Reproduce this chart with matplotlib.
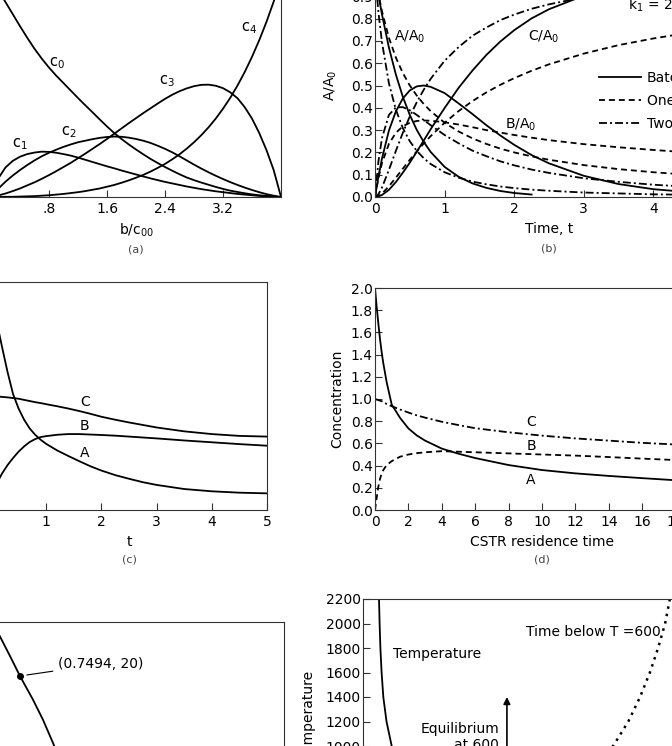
import matplotlib
matplotlib.use("Agg")
import matplotlib.pyplot as plt
from matplotlib.ticker import FormatStrFormatter

plt.rcParams['font.family'] = ['DejaVu Sans']
plt.rcParams['font.size'] = 10
plt.rcParams['mathtext.fontset'] = 'dejavusans'

# ---- (a) species c0..c4 vs b/c00
x_a = [0, 0.1, 0.2, 0.3, 0.4, 0.5, 0.6, 0.7, 0.8, 0.9, 1.0, 1.1, 1.2, 1.3, 1.4, 1.5, 1.6, 1.7, 1.8, 1.9, 2.0,
       2.1, 2.2, 2.3, 2.4, 2.5, 2.6, 2.7, 2.8, 2.9, 3.0, 3.1, 3.2, 3.3, 3.4, 3.5, 3.6, 3.7, 3.8, 3.9, 4.0]
c0 = [1.0, 0.945, 0.89, 0.835, 0.78, 0.727, 0.677, 0.632, 0.591, 0.554, 0.52, 0.486, 0.452, 0.419, 0.387,
      0.354, 0.322, 0.292, 0.265, 0.240, 0.217, 0.195, 0.174, 0.155, 0.137, 0.120, 0.104, 0.089, 0.077,
      0.066, 0.056, 0.046, 0.037, 0.029, 0.023, 0.017, 0.012, 0.008, 0.005, 0.002, 0]
c1 = [0, 0.085, 0.135, 0.165, 0.184, 0.196, 0.203, 0.207, 0.206, 0.202, 0.196, 0.189, 0.180, 0.170, 0.160,
      0.150, 0.140, 0.131, 0.121, 0.112, 0.103, 0.094, 0.085, 0.077, 0.069, 0.062, 0.055, 0.048, 0.042,
      0.036, 0.031, 0.026, 0.022, 0.018, 0.014, 0.011, 0.008, 0.005, 0.003, 0.001, 0]
c2 = [0, 0.038, 0.07, 0.098, 0.123, 0.146, 0.167, 0.186, 0.202, 0.216, 0.229, 0.240, 0.250, 0.257, 0.264,
      0.270, 0.274, 0.276, 0.275, 0.271, 0.265, 0.257, 0.247, 0.234, 0.220, 0.204, 0.186, 0.167, 0.148,
      0.130, 0.113, 0.097, 0.082, 0.068, 0.055, 0.043, 0.032, 0.022, 0.013, 0.006, 0]
c3 = [0, 0.007, 0.016, 0.027, 0.039, 0.053, 0.067, 0.083, 0.100, 0.118, 0.137, 0.156, 0.177, 0.198, 0.220,
      0.242, 0.265, 0.289, 0.313, 0.337, 0.360, 0.383, 0.405, 0.427, 0.448, 0.467, 0.483, 0.496, 0.506,
      0.512, 0.513, 0.508, 0.497, 0.478, 0.451, 0.410, 0.358, 0.292, 0.214, 0.122, 0]
c4 = [0, 0, 0.001, 0.001, 0.002, 0.003, 0.004, 0.006, 0.008, 0.011, 0.014, 0.018, 0.022, 0.027, 0.033,
      0.039, 0.047, 0.055, 0.065, 0.076, 0.088, 0.101, 0.116, 0.133, 0.151, 0.172, 0.195, 0.221, 0.250,
      0.282, 0.318, 0.358, 0.403, 0.453, 0.509, 0.571, 0.640, 0.716, 0.800, 0.893, 1.0]
a_ticks = [0.8, 1.6, 2.4, 3.2]
a_ticklabels = [".8", "1.6", "2.4", "3.2"]

# ---- (b) batch vs one / two CSTRs, k1 = 2, k2 = 1
t_b = [0, 0.05, 0.1, 0.2, 0.3, 0.4, 0.5, 0.6, 0.7, 0.8, 1.0, 1.2, 1.4, 1.6, 1.8, 2.0, 2.25, 2.5, 3.0, 3.5, 4.0, 4.5, 5.0]
batch_a = [1.0, 0.905, 0.819, 0.670, 0.549, 0.449, 0.368, 0.301, 0.247, 0.202, 0.135, 0.091, 0.061, 0.041, 0.027, 0.018, 0.011]
batch_b = [0, 0.092, 0.172, 0.298, 0.384, 0.442, 0.478, 0.496, 0.500, 0.494, 0.466, 0.420, 0.372, 0.322, 0.276, 0.234, 0.188, 0.151, 0.095, 0.058, 0.035, 0.022, 0.013]
batch_c = [0, 0.003, 0.009, 0.032, 0.067, 0.109, 0.154, 0.203, 0.253, 0.304, 0.399, 0.489, 0.567, 0.637, 0.697, 0.748, 0.801, 0.842, 0.903, 0.941, 0.965, 0.978, 0.987]
one_a = [1.0, 0.909, 0.833, 0.714, 0.625, 0.556, 0.500, 0.455, 0.417, 0.385, 0.333, 0.294, 0.263, 0.238, 0.217, 0.200, 0.182, 0.167, 0.143, 0.125, 0.111, 0.100, 0.091]
one_b = [0, 0.087, 0.152, 0.238, 0.288, 0.317, 0.333, 0.341, 0.343, 0.342, 0.335, 0.325, 0.313, 0.300, 0.289, 0.278, 0.266, 0.255, 0.237, 0.223, 0.211, 0.200, 0.191]
one_c = [0, 0.004, 0.015, 0.048, 0.087, 0.127, 0.167, 0.204, 0.240, 0.273, 0.333, 0.385, 0.430, 0.469, 0.503, 0.533, 0.566, 0.595, 0.643, 0.681, 0.711, 0.736, 0.757]
two_a = [1.0, 0.826, 0.694, 0.510, 0.391, 0.309, 0.250, 0.207, 0.174, 0.148, 0.111, 0.087, 0.069, 0.057, 0.047, 0.040, 0.033, 0.028, 0.020, 0.016, 0.012, 0.010, 0.008]
two_b = [0, 0.161, 0.264, 0.368, 0.402, 0.403, 0.389, 0.368, 0.345, 0.322, 0.278, 0.241, 0.208, 0.183, 0.160, 0.142, 0.123, 0.108, 0.084, 0.068, 0.055, 0.046, 0.039]
two_c = [0, 0.013, 0.042, 0.122, 0.207, 0.288, 0.361, 0.425, 0.481, 0.530, 0.611, 0.672, 0.723, 0.760, 0.793, 0.818, 0.844, 0.864, 0.896, 0.916, 0.933, 0.944, 0.953]
legend_labels = ["Batch", "One CSTR", "Two CSTRs"]

# ---- (c) A, B, C vs t
t_c = [0, 0.1, 0.2, 0.3, 0.4, 0.5, 0.6, 0.7, 0.8, 0.9, 1.0, 1.2, 1.4, 1.6, 1.8, 2.0, 2.25, 2.5, 2.75, 3.0, 3.5, 4.0, 4.5, 5.0]
a_c = [0.98, 0.83, 0.715, 0.605, 0.508, 0.445, 0.396, 0.358, 0.330, 0.308, 0.290, 0.261, 0.237, 0.214, 0.192,
       0.173, 0.153, 0.137, 0.122, 0.110, 0.092, 0.082, 0.076, 0.073]
b_c = [0.07, 0.115, 0.16, 0.197, 0.228, 0.256, 0.279, 0.298, 0.311, 0.320, 0.324, 0.330, 0.333, 0.333, 0.331,
       0.329, 0.326, 0.322, 0.318, 0.314, 0.305, 0.297, 0.289, 0.282]
cc_c = [0.50, 0.499, 0.496, 0.494, 0.491, 0.488, 0.483, 0.478, 0.473, 0.469, 0.464, 0.455, 0.445, 0.434, 0.422,
        0.409, 0.396, 0.384, 0.373, 0.362, 0.345, 0.333, 0.325, 0.322]

# ---- (d) CSTR concentrations vs residence time
tau_d = [0, 0.1, 0.2, 0.3, 0.4, 0.5, 0.7, 1, 1.5, 2, 2.5, 3, 4, 5, 6, 8, 10, 12, 14, 16, 18, 20]
a_d = [2.0, 1.83, 1.68, 1.54, 1.42, 1.32, 1.15, 0.95, 0.83, 0.735, 0.672, 0.625, 0.553, 0.507, 0.468, 0.405,
       0.36, 0.33, 0.307, 0.287, 0.268, 0.252]
b_d = [0, 0.11, 0.21, 0.28, 0.33, 0.36, 0.405, 0.44, 0.48, 0.50, 0.512, 0.52, 0.53, 0.525, 0.52, 0.51, 0.50,
       0.49, 0.477, 0.463, 0.45, 0.437]
c_d = [1.0, 0.995, 0.99, 0.985, 0.98, 0.972, 0.955, 0.935, 0.905, 0.878, 0.853, 0.832, 0.795, 0.765, 0.737,
       0.70, 0.67, 0.645, 0.625, 0.605, 0.59, 0.575]

# ---- (e) curve through (0.7494, 20)
x_e = [0.700, 0.7154, 0.7324, 0.7494, 0.7717, 0.7887, 0.8058, 0.8177]
y_e = [30.2, 27.3, 23.7, 20.0, 15.6, 11.9, 7.6, 4.4]
point_e = (0.7494, 20)

# ---- (f) temperature profiles
temp_y = [2200, 2000, 1800, 1600, 1400, 1200, 1000, 800]
temp_x = [0.0505, 0.0524, 0.0549, 0.0587, 0.0641, 0.0742, 0.0905, 0.1126]
below_x = [0.968, 0.953, 0.931, 0.905, 0.874, 0.837, 0.789, 0.73]
f_yticks = [400, 600, 800, 1000, 1200, 1400, 1600, 1800, 2000, 2200]

W, H = 672, 746
fig = plt.figure(figsize=(W / 100, H / 100), dpi=100)


def rect(l, t, r, b):
    # pixel box -> figure fraction
    return [l / W, 1 - b / H, (r - l) / W, (b - t) / H]


def style(ax):
    for s in ax.spines.values():
        s.set_linewidth(0.8)
        s.set_color('#333333')
    ax.tick_params(direction='in', length=5, width=0.8, color='#333333',
                   labelsize=10, top=False, right=False)
    ax.tick_params(axis='y', pad=1.5)


LW = 1.3
dash = (0, (3.3, 2.2))
dashdot = (0, (4.4, 1.7, 1.1, 1.7))
cap = dict(fontsize=8, color='#444444', ha='center', va='center')

# (a)
ax = fig.add_axes(rect(-9, -22, 281, 197))
style(ax)
for c in (c0, c1, c2, c3, c4):
    ax.plot(x_a, c, color='k', lw=LW)
ax.set_xlim(0, 4)
ax.set_ylim(0, 1)
ax.set_xticks(a_ticks)
ax.set_xticklabels(a_ticklabels)
ax.set_yticks([])
for lbl, x, y in [("c$_0$", 0.91, 0.612), ("c$_1$", 0.40, 0.243), ("c$_2$", 1.07, 0.297),
                  ("c$_3$", 2.43, 0.530), ("c$_4$", 3.56, 0.772)]:
    ax.text(x, y, lbl, fontsize=10.5, ha='center', va='center')
ax.set_xlabel("b/c$_{00}$")
ax.xaxis.set_label_coords(0.5, -0.112)
ax.text(0.5, -0.242, "(a)", transform=ax.transAxes, **cap)

# (b)
ax = fig.add_axes(rect(375, -26, 723, 197))
style(ax)
ax.plot(t_b[:len(batch_a)], batch_a, color='k', lw=LW, label=legend_labels[0])
ax.plot(t_b, batch_b, color='k', lw=LW)
ax.plot(t_b, batch_c, color='k', lw=LW)
ax.plot(t_b, one_a, color='k', lw=LW, ls=dash, label=legend_labels[1])
ax.plot(t_b, one_b, color='k', lw=LW, ls=dash)
ax.plot(t_b, one_c, color='k', lw=LW, ls=dash)
ax.plot(t_b, two_a, color='k', lw=LW, ls=dashdot, label=legend_labels[2])
ax.plot(t_b, two_b, color='k', lw=LW, ls=dashdot)
ax.plot(t_b, two_c, color='k', lw=LW, ls=dashdot)
ax.set_xlim(0, 5)
ax.set_ylim(0, 1.0)
ax.set_xticks([0, 1, 2, 3, 4, 5])
ax.set_yticks([i / 10 for i in range(11)])
ax.yaxis.set_major_formatter(FormatStrFormatter('%.1f'))
ax.text(0.50, 0.717, "A/A$_0$", ha='center', va='center')
ax.text(2.43, 0.717, "C/A$_0$", ha='center', va='center')
ax.text(2.09, 0.323, "B/A$_0$", ha='center', va='center')
ax.text(3.63, 0.861, "k$_1$ = 2, k$_2$ = 1", ha='left', va='center')
ax.legend(loc='upper left', bbox_to_anchor=(0.644, 0.565), frameon=False,
          borderpad=0, borderaxespad=0, handlelength=3.0, handletextpad=0.45,
          labelspacing=0.65, fontsize=10)
ax.set_xlabel("Time, t")
ax.xaxis.set_label_coords(0.5, -0.112)
ax.set_ylabel("A/A$_0$")
ax.yaxis.set_label_coords(-0.103, 0.5)
ax.text(0.5, -0.229, "(b)", transform=ax.transAxes, **cap)

# (c)
ax = fig.add_axes(rect(-9, 282, 267, 510))
style(ax)
ax.plot(t_c, a_c, color='k', lw=LW)
ax.plot(t_c, b_c, color='k', lw=LW)
ax.plot(t_c, cc_c, color='k', lw=LW)
ax.set_xlim(0, 5)
ax.set_ylim(0, 1)
ax.set_xticks([0, 1, 2, 3, 4, 5])
ax.set_yticks([])
ax.text(1.70, 0.474, "C", ha='center', va='center')
ax.text(1.70, 0.368, "B", ha='center', va='center')
ax.text(1.70, 0.250, "A", ha='center', va='center')
ax.set_xlabel("t")
ax.xaxis.set_label_coords(0.5, -0.11)
ax.text(0.5, -0.219, "(c)", transform=ax.transAxes, **cap)

# (d)
ax = fig.add_axes(rect(375, 288, 709, 510))
style(ax)
ax.plot(tau_d, a_d, color='k', lw=LW)
ax.plot(tau_d, b_d, color='k', lw=LW, ls=dash)
ax.plot(tau_d, c_d, color='k', lw=LW, ls=dashdot)
ax.set_xlim(0, 20)
ax.set_ylim(0, 2.0)
ax.set_xticks(range(0, 21, 2))
ax.set_yticks([i / 5 for i in range(11)])
ax.yaxis.set_major_formatter(FormatStrFormatter('%.1f'))
ax.text(9.34, 0.79, "C", ha='center', va='center')
ax.text(9.34, 0.577, "B", ha='center', va='center')
ax.text(9.34, 0.27, "A", ha='center', va='center')
ax.set_xlabel("CSTR residence time")
ax.xaxis.set_label_coords(0.5, -0.113)
ax.set_ylabel("Concentration")
ax.yaxis.set_label_coords(-0.093, 0.5)
ax.text(0.5, -0.225, "(d)", transform=ax.transAxes, **cap)

# (e)
ax = fig.add_axes(rect(-9, 622, 284, 784))
style(ax)
ax.plot(x_e, y_e, color='k', lw=LW)
ax.plot(*point_e, 'o', color='k', ms=4)
ax.annotate("(0.7494, 20)", xy=point_e, xytext=(0.815, 22.2), ha='left', va='center',
            arrowprops=dict(arrowstyle='-', lw=0.8, color='k', shrinkA=2, shrinkB=5))
ax.set_xlim(0.7, 1.2)
ax.set_ylim(0, 30)
ax.set_xticks([])
ax.set_yticks([])

# (f)
ax = fig.add_axes(rect(363, 599, 680, 831.75))
style(ax)
ax.plot(temp_x, temp_y, color='k', lw=LW)
ax.plot(below_x, temp_y, color='k', lw=1.8, ls=(0, (1, 2)))
ax.set_xlim(0, 1)
ax.set_ylim(300, 2200)
ax.set_xticks([])
ax.set_yticks(f_yticks)
ax.annotate("", xy=(0.454, 1400), xytext=(0.454, 500),
            arrowprops=dict(arrowstyle='-|>', lw=1.2, color='k', mutation_scale=10,
                            shrinkA=0, shrinkB=0))
ax.text(0.429, 1200, "Equilibrium\nat 600", ha='right', va='top', multialignment='right')
ax.text(0.095, 1751, "Temperature", ha='left', va='center')
ax.text(0.94, 1931, "Time below T =600", ha='right', va='center')
ax.set_ylabel("Temperature")
ax.yaxis.set_label_coords(-0.148, 0.5)

fig.savefig("out.png", dpi=100)
